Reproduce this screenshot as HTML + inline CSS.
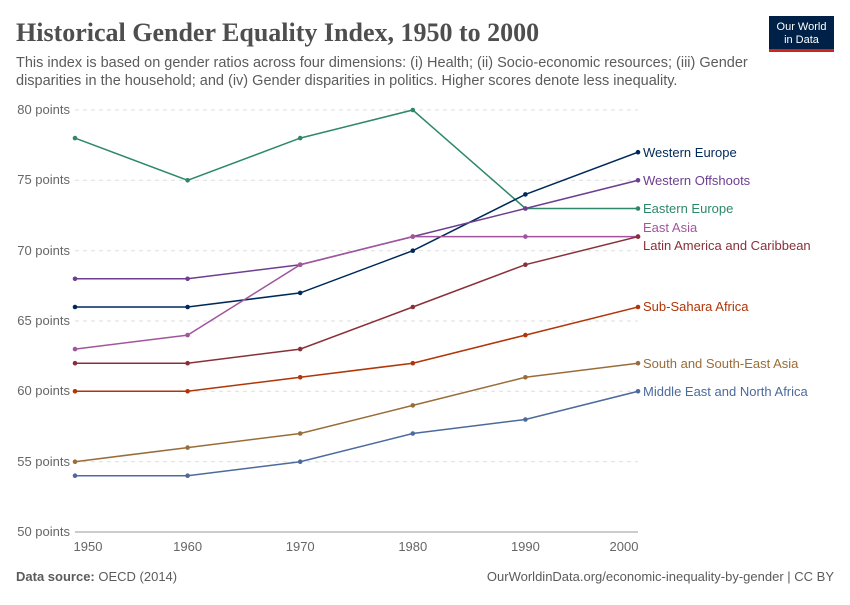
<!DOCTYPE html>
<html><head><meta charset="utf-8"><style>
body{margin:0;background:#fff;width:850px;height:600px;overflow:hidden;font-family:"Liberation Sans",sans-serif}
</style></head><body>
<svg width="850" height="600" xmlns="http://www.w3.org/2000/svg" font-family="Liberation Sans, sans-serif">
<text x="16" y="41" font-family="Liberation Serif, serif" font-size="26" font-weight="bold" fill="#4e4e4e">Historical Gender Equality Index, 1950 to 2000</text>
<text x="16" y="67" font-size="14.5" fill="#5b5b5b">This index is based on gender ratios across four dimensions: (i) Health; (ii) Socio-economic resources; (iii) Gender</text>
<text x="16" y="85" font-size="14.5" fill="#5b5b5b">disparities in the household; and (iv) Gender disparities in politics. Higher scores denote less inequality.</text>
<rect x="769" y="16" width="65" height="36" fill="#002147"/>
<rect x="769" y="49" width="65" height="3" fill="#ce261e"/>
<text x="801.5" y="30" font-size="11" fill="#fff" text-anchor="middle">Our World</text>
<text x="801.5" y="43" font-size="11" fill="#fff" text-anchor="middle">in Data</text>
<g stroke="#ddd" stroke-dasharray="4,4" stroke-width="1">
<line x1="75" x2="638" y1="110" y2="110"/><line x1="75" x2="638" y1="180.3" y2="180.3"/><line x1="75" x2="638" y1="250.7" y2="250.7"/><line x1="75" x2="638" y1="321" y2="321"/><line x1="75" x2="638" y1="391.3" y2="391.3"/><line x1="75" x2="638" y1="461.7" y2="461.7"/>
</g>
<line x1="75" x2="638" y1="532" y2="532" stroke="#999"/>
<g font-size="13" fill="#666" text-anchor="end">
<text x="70" y="114">80 points</text><text x="70" y="184">75 points</text><text x="70" y="255">70 points</text><text x="70" y="325">65 points</text><text x="70" y="395">60 points</text><text x="70" y="466">55 points</text><text x="70" y="536">50 points</text>
</g>
<g font-size="13" fill="#666" text-anchor="middle">
<text x="88" y="551">1950</text><text x="187.6" y="551">1960</text><text x="300.2" y="551">1970</text><text x="412.8" y="551">1980</text><text x="525.4" y="551">1990</text><text x="624" y="551">2000</text>
</g>
<g fill="none" stroke-width="1.5">
<polyline stroke="#2d8867" points="75,138.1 187.6,180.3 300.2,138.1 412.8,110 525.4,208.5 638,208.5"/>
<polyline stroke="#00295b" points="75,307 187.6,307 300.2,292.9 412.8,250.7 525.4,194.4 638,152.2"/>
<polyline stroke="#6d3e91" points="75,278.8 187.6,278.8 300.2,264.7 412.8,236.6 525.4,208.5 638,180.3"/>
<polyline stroke="#a2559c" points="75,349.1 187.6,335.1 300.2,264.7 412.8,236.6 525.4,236.6 638,236.6"/>
<polyline stroke="#883039" points="75,363.2 187.6,363.2 300.2,349.1 412.8,307 525.4,264.7 638,236.6"/>
<polyline stroke="#b13507" points="75,391.3 187.6,391.3 300.2,377.3 412.8,363.2 525.4,335.1 638,307"/>
<polyline stroke="#996d39" points="75,461.7 187.6,447.6 300.2,433.5 412.8,405.4 525.4,377.3 638,363.2"/>
<polyline stroke="#4c6a9c" points="75,475.7 187.6,475.7 300.2,461.7 412.8,433.5 525.4,419.5 638,391.3"/>
</g>
<g>
<g fill="#2d8867"><circle cx="75" cy="138.1" r="2.3"/><circle cx="187.6" cy="180.3" r="2.3"/><circle cx="300.2" cy="138.1" r="2.3"/><circle cx="412.8" cy="110" r="2.3"/><circle cx="525.4" cy="208.5" r="2.3"/><circle cx="638" cy="208.5" r="2.3"/></g>
<g fill="#00295b"><circle cx="75" cy="307" r="2.3"/><circle cx="187.6" cy="307" r="2.3"/><circle cx="300.2" cy="292.9" r="2.3"/><circle cx="412.8" cy="250.7" r="2.3"/><circle cx="525.4" cy="194.4" r="2.3"/><circle cx="638" cy="152.2" r="2.3"/></g>
<g fill="#6d3e91"><circle cx="75" cy="278.8" r="2.3"/><circle cx="187.6" cy="278.8" r="2.3"/><circle cx="300.2" cy="264.7" r="2.3"/><circle cx="412.8" cy="236.6" r="2.3"/><circle cx="525.4" cy="208.5" r="2.3"/><circle cx="638" cy="180.3" r="2.3"/></g>
<g fill="#a2559c"><circle cx="75" cy="349.1" r="2.3"/><circle cx="187.6" cy="335.1" r="2.3"/><circle cx="300.2" cy="264.7" r="2.3"/><circle cx="412.8" cy="236.6" r="2.3"/><circle cx="525.4" cy="236.6" r="2.3"/><circle cx="638" cy="236.6" r="2.3"/></g>
<g fill="#883039"><circle cx="75" cy="363.2" r="2.3"/><circle cx="187.6" cy="363.2" r="2.3"/><circle cx="300.2" cy="349.1" r="2.3"/><circle cx="412.8" cy="307" r="2.3"/><circle cx="525.4" cy="264.7" r="2.3"/><circle cx="638" cy="236.6" r="2.3"/></g>
<g fill="#b13507"><circle cx="75" cy="391.3" r="2.3"/><circle cx="187.6" cy="391.3" r="2.3"/><circle cx="300.2" cy="377.3" r="2.3"/><circle cx="412.8" cy="363.2" r="2.3"/><circle cx="525.4" cy="335.1" r="2.3"/><circle cx="638" cy="307" r="2.3"/></g>
<g fill="#996d39"><circle cx="75" cy="461.7" r="2.3"/><circle cx="187.6" cy="447.6" r="2.3"/><circle cx="300.2" cy="433.5" r="2.3"/><circle cx="412.8" cy="405.4" r="2.3"/><circle cx="525.4" cy="377.3" r="2.3"/><circle cx="638" cy="363.2" r="2.3"/></g>
<g fill="#4c6a9c"><circle cx="75" cy="475.7" r="2.3"/><circle cx="187.6" cy="475.7" r="2.3"/><circle cx="300.2" cy="461.7" r="2.3"/><circle cx="412.8" cy="433.5" r="2.3"/><circle cx="525.4" cy="419.5" r="2.3"/><circle cx="638" cy="391.3" r="2.3"/></g>
</g>
<g font-size="13">
<text x="643" y="157" fill="#00295b">Western Europe</text>
<text x="643" y="185" fill="#6d3e91">Western Offshoots</text>
<text x="643" y="213" fill="#2d8867">Eastern Europe</text>
<text x="643" y="232" fill="#a2559c">East Asia</text>
<text x="643" y="250" fill="#883039">Latin America and Caribbean</text>
<text x="643" y="311" fill="#b13507">Sub-Sahara Africa</text>
<text x="643" y="368" fill="#996d39">South and South-East Asia</text>
<text x="643" y="396" fill="#4c6a9c">Middle East and North Africa</text>
</g>
<text x="16" y="581" font-size="13" fill="#5b5b5b"><tspan font-weight="bold">Data source:</tspan> OECD (2014)</text>
<text x="834" y="581" font-size="13" fill="#5b5b5b" text-anchor="end">OurWorldinData.org/economic-inequality-by-gender | CC BY</text>
</svg>
</body></html>
